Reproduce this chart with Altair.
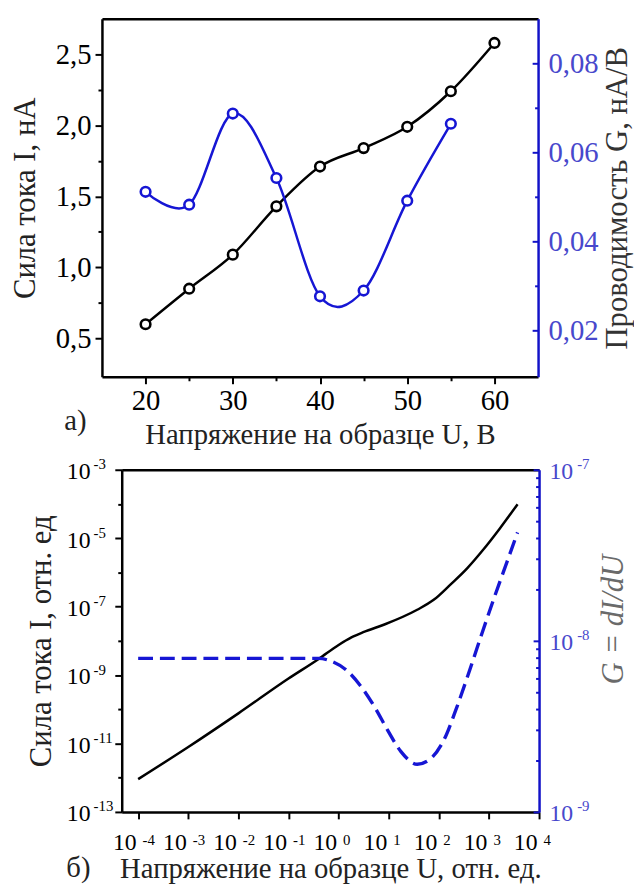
import altair as alt
import pandas as pd

FONT = "Liberation Serif, DejaVu Serif, serif"
BLUE = "#1616d4"
BLUE_AXIS = "#1212c8"
BLUE_LABEL = "#4848cc"

# ---------- panel a) ----------
u_a = [20, 25, 30, 35, 40, 45, 50, 55, 60]
current_a = [0.60, 0.85, 1.09, 1.43, 1.71, 1.84, 1.99, 2.24, 2.58]
u_g_a = [20, 25, 30, 35, 40, 45, 50, 55]
cond_a = [0.0511, 0.0482, 0.0687, 0.0542, 0.0276, 0.0289, 0.0491, 0.0664]

x_ticks_a = [20, 30, 40, 50, 60]
x_minor_a = [25, 35, 45, 55]
y_ticks_a = [0.5, 1.0, 1.5, 2.0, 2.5]
y_minor_a = [0.75, 1.25, 1.75, 2.25]
g_ticks_a = [0.02, 0.04, 0.06, 0.08]
g_minor_a = [0.03, 0.05, 0.07]

# ---------- panel б) ----------
u_b = [1e-4, 1e-3, 1e-2, 1e-1, 0.4, 1.0, 1.8, 3.2, 8.2, 37.0, 79.0, 170.0, 363.0, 759.0, 1622.0, 3715.0]
current_b = [9.1e-13, 7.9e-12, 7.6e-11, 7.9e-10, 2.95e-9, 7.6e-9, 1.26e-8, 1.82e-8, 3.0e-8,
             8.1e-8, 1.58e-7, 4.4e-7, 1.29e-6, 4.5e-6, 1.86e-5, 9.8e-5]
u_g_b = [1e-4, 1e-3, 1e-2, 1e-1, 0.4, 0.63, 1.55, 2.82, 5.25, 9.55, 17.4, 37.2, 67.6, 126.0,
         229.0, 417.0, 759.0, 1413.0, 2399.0, 3715.0]
cond_b = [7.9e-9, 7.9e-9, 7.9e-9, 7.9e-9, 7.9e-9, 7.7e-9, 6.6e-9, 5.4e-9, 4.1e-9, 3.0e-9,
          2.26e-9, 1.9e-9, 2.04e-9, 2.63e-9, 4.1e-9, 6.8e-9, 1.15e-8, 1.95e-8, 3.0e-8, 4.3e-8]

LOG_BASE_LABEL = "10"
x_ticks_b = [1e-4, 1e-3, 1e-2, 1e-1, 1e0, 1e1, 1e2, 1e3, 1e4]
x_exp_b = ["-4", "-3", "-2", "-1", "0", "1", "2", "3", "4"]
y_ticks_b = [1e-13, 1e-11, 1e-9, 1e-7, 1e-5, 1e-3]
y_exp_b = ["-13", "-11", "-9", "-7", "-5", "-3"]
y_minor_b = [1e-12, 1e-10, 1e-8, 1e-6, 1e-4]
g_ticks_b = [1e-9, 1e-8, 1e-7]
g_exp_b = ["-9", "-8", "-7"]
g_minor_b = [2e-9, 3e-9, 4e-9, 5e-9, 6e-9, 7e-9, 8e-9, 9e-9,
             2e-8, 3e-8, 4e-8, 5e-8, 6e-8, 7e-8, 8e-8, 9e-8]

W_A, H_A = 441, 362
W_B, H_B = 442, 346
LAB_A = 29
LAB_B = 24
EXP = 15
TIT = 29
VTIT = 31


def axis(**kw):
    base = dict(labelFont=FONT, titleFont=FONT, labelFontSize=LAB_A, titleFontSize=TIT,
                titleFontWeight="normal", labelFlush=False, labelOverlap=False, grid=False,
                domainWidth=2.5, tickWidth=2, labelColor="black", titleColor="#222",
                domainColor="black", tickColor="black")
    base.update(kw)
    return alt.Axis(**base)


def tick_axis(orient, values, size, color="black", **kw):
    # ticks only (no labels, no domain line)
    return alt.Axis(orient=orient, values=values, labels=False, title=None, domain=False,
                    tickSize=size, tickWidth=2, tickColor=color, grid=False, **kw)


def frame_axis(orient):
    return alt.Axis(orient=orient, ticks=False, labels=False, title=None, grid=False,
                    domain=True, domainColor="black", domainWidth=2.5)


def exp_axis(orient, values, expr, color="black", **kw):
    # superscript exponents of the "10^n" tick labels
    return alt.Axis(orient=orient, values=values, ticks=False, tickSize=0, domain=False,
                    title=None, grid=False, labelExpr=expr, labelFont=FONT, labelFontSize=EXP,
                    labelColor=color, labelFlush=False, labelOverlap=False, **kw)


def arr_literal(labels):
    return "[" + ",".join("'" + s + "'" for s in labels) + "]"


# ---------- build panel a ----------
df_i = pd.DataFrame({"U": u_a, "I": current_a})
df_g = pd.DataFrame({"U": u_g_a, "G": cond_a})

xs_a = alt.Scale(domain=[15, 65], nice=False, zero=False)
ys_i = alt.Scale(domain=[0.23, 2.75], nice=False, zero=False)
ys_g = alt.Scale(domain=[0.0095, 0.09], nice=False, zero=False)

x_axis_a = axis(orient="bottom", values=x_ticks_a, format="d", tickSize=7, labelPadding=3,
                titlePadding=5, title="Напряжение на образце U, В")
y_axis_i = axis(orient="left", values=y_ticks_a, tickSize=7, labelPadding=4, titlePadding=14,
                labelExpr="replace(format(datum.value, '.1f'), '.', ',')",
                titleFontSize=VTIT, title="Сила тока I, нА")
y_axis_g = axis(orient="right", values=g_ticks_a, ticks=False, tickSize=0, labelPadding=10,
                titlePadding=5,
                labelExpr="replace(format(datum.value, '.2f'), '.', ',')",
                domainColor=BLUE_AXIS, labelColor=BLUE_LABEL,
                titleAngle=270, titleBaseline="top", titleFontSize=VTIT,
                title="Проводимость G,  нА/В", titleColor="#333")

base_i = alt.Chart(df_i).encode(
    x=alt.X("U:Q", scale=xs_a, axis=x_axis_a),
    y=alt.Y("I:Q", scale=ys_i, axis=y_axis_i),
)
layer_i = alt.layer(
    base_i.mark_line(color="black", strokeWidth=2.5, interpolate="monotone"),
    base_i.mark_point(shape="circle", size=95, filled=True, fill="white", stroke="black",
                      strokeWidth=2.6, opacity=1),
)
base_g = alt.Chart(df_g).encode(
    x=alt.X("U:Q", scale=xs_a, axis=None),
    y=alt.Y("G:Q", scale=ys_g, axis=y_axis_g),
)
layer_g = alt.layer(
    base_g.mark_line(color=BLUE, strokeWidth=2.5, interpolate="cardinal"),
    base_g.mark_point(shape="circle", size=95, filled=True, fill="white", stroke=BLUE,
                      strokeWidth=2.6, opacity=1),
)
minor_i = alt.Chart(df_i).mark_point(opacity=0).encode(
    x=alt.X("U:Q", scale=xs_a, axis=tick_axis("bottom", x_minor_a, 4)),
    y=alt.Y("I:Q", scale=ys_i, axis=tick_axis("left", y_minor_a, 4)),
)
# inward ticks of the right (blue) axis: a left-oriented axis moved to the right edge
ticks_g = alt.Chart(df_g).mark_point(opacity=0).encode(
    x=alt.X("U:Q", scale=xs_a, axis=frame_axis("top")),
    y=alt.Y("G:Q", scale=ys_g, axis=tick_axis("left", g_ticks_a, 6, BLUE_AXIS, offset=-W_A)),
)
minor_g = alt.Chart(df_g).mark_point(opacity=0).encode(
    x=alt.X("U:Q", scale=xs_a, axis=None),
    y=alt.Y("G:Q", scale=ys_g, axis=tick_axis("left", g_minor_a, 3.5, BLUE_AXIS, offset=-W_A)),
)

top = alt.layer(layer_i, layer_g, minor_i, ticks_g, minor_g).resolve_scale(
    y="independent").resolve_axis(x="independent", y="independent").properties(
    width=W_A, height=H_A,
    title=alt.TitleParams("а)", orient="bottom", anchor="start", frame="group", dx=-38, dy=-46,
                          font=FONT, fontSize=TIT, fontWeight="normal", color="#222"))

# ---------- build panel б ----------
df_ib = pd.DataFrame({"U": u_b, "I": current_b})
df_gb = pd.DataFrame({"U": u_g_b, "G": cond_b})

xs_b = alt.Scale(type="log", domain=[4.7e-5, 1e4], nice=False, range=[20, W_B])
ys_ib = alt.Scale(type="log", domain=[1e-13, 1e-3], nice=False)
ys_gb = alt.Scale(type="log", domain=[1e-9, 1e-7], nice=False)

base_expr = "'" + LOG_BASE_LABEL + "'"
x_exp_expr = arr_literal(x_exp_b) + "[round(log(datum.value)/LN10) + 4]"
y_exp_expr = arr_literal(y_exp_b) + "[round((round(log(datum.value)/LN10) + 13) / 2)]"
g_exp_expr = arr_literal(g_exp_b) + "[round(log(datum.value)/LN10) + 9]"

x_axis_b = axis(orient="bottom", values=x_ticks_b, tickSize=7, labelPadding=12, titlePadding=0,
                labelFontSize=LAB_B, labelExpr=base_expr, labelAlign="right", labelOffset=-2,
                title="Напряжение на образце U, отн. ед.")
y_axis_ib = axis(orient="left", values=y_ticks_b, tickSize=7, labelPadding=25, titlePadding=9,
                 offset=-20, labelFontSize=LAB_B, labelExpr=base_expr, labelOffset=2,
                 titleFontSize=VTIT, title="Сила тока I, отн. ед")
y_axis_gb = axis(orient="right", values=g_ticks_b, ticks=False, tickSize=0, labelPadding=10,
                 titlePadding=26, labelFontSize=LAB_B, labelExpr=base_expr, labelOffset=2,
                 domainColor=BLUE_AXIS, labelColor=BLUE_LABEL, titleAngle=270,
                 titleBaseline="top", titleFontSize=VTIT, titleY=151, title="G = dI/dU",
                 titleFontStyle="italic", titleColor="#6a6a6a")

line_ib = alt.Chart(df_ib).mark_line(color="black", strokeWidth=2.5, interpolate="monotone").encode(
    x=alt.X("U:Q", scale=xs_b, axis=x_axis_b),
    y=alt.Y("I:Q", scale=ys_ib, axis=y_axis_ib),
)
line_gb = alt.Chart(df_gb).mark_line(color=BLUE, strokeWidth=3.4, strokeDash=[15, 7],
                                     interpolate="monotone").encode(
    x=alt.X("U:Q", scale=xs_b, axis=None),
    y=alt.Y("G:Q", scale=ys_gb, axis=y_axis_gb),
)
minor_ib = alt.Chart(df_ib).mark_point(opacity=0).encode(
    x=alt.X("U:Q", scale=xs_b, axis=frame_axis("top")),
    y=alt.Y("I:Q", scale=ys_ib, axis=tick_axis("left", y_minor_b, 4, offset=-20)),
)
exp_ib = alt.Chart(df_ib).mark_point(opacity=0).encode(
    x=alt.X("U:Q", scale=xs_b, axis=exp_axis("bottom", x_ticks_b, x_exp_expr, labelAlign="left",
                                               labelOffset=4, labelPadding=21)),
    y=alt.Y("I:Q", scale=ys_ib, axis=exp_axis("left", y_ticks_b, y_exp_expr, offset=-20,
                                                labelAlign="left", labelPadding=29,
                                                labelOffset=-6)),
)
ticks_gb = alt.Chart(df_gb).mark_point(opacity=0).encode(
    x=alt.X("U:Q", scale=xs_b, axis=None),
    y=alt.Y("G:Q", scale=ys_gb, axis=tick_axis("left", g_ticks_b, 6, BLUE_AXIS, offset=-W_B)),
)
minor_gb = alt.Chart(df_gb).mark_point(opacity=0).encode(
    x=alt.X("U:Q", scale=xs_b, axis=None),
    y=alt.Y("G:Q", scale=ys_gb, axis=tick_axis("left", g_minor_b, 3.5, BLUE_AXIS, offset=-W_B)),
)
exp_gb = alt.Chart(df_gb).mark_point(opacity=0).encode(
    x=alt.X("U:Q", scale=xs_b, axis=None),
    y=alt.Y("G:Q", scale=ys_gb, axis=exp_axis("right", g_ticks_b, g_exp_expr, BLUE_LABEL,
                                                labelPadding=38, labelOffset=-6)),
)

bottom = alt.layer(line_ib, line_gb, minor_ib, exp_ib, ticks_gb, minor_gb, exp_gb).resolve_scale(
    y="independent").resolve_axis(x="independent", y="independent").properties(
    width=W_B, height=H_B,
    title=alt.TitleParams("б)", orient="bottom", anchor="start", frame="group", dx=-36, dy=-33,
                          font=FONT, fontSize=TIT, fontWeight="normal", color="#222"))

chart = alt.vconcat(top, bottom, spacing=6).properties(
    padding={"left": 1, "top": 5, "right": 0, "bottom": 0},
    background="white",
).configure_view(stroke="transparent")

chart.save("out.html", embed_options={"renderer": "svg", "actions": False})
